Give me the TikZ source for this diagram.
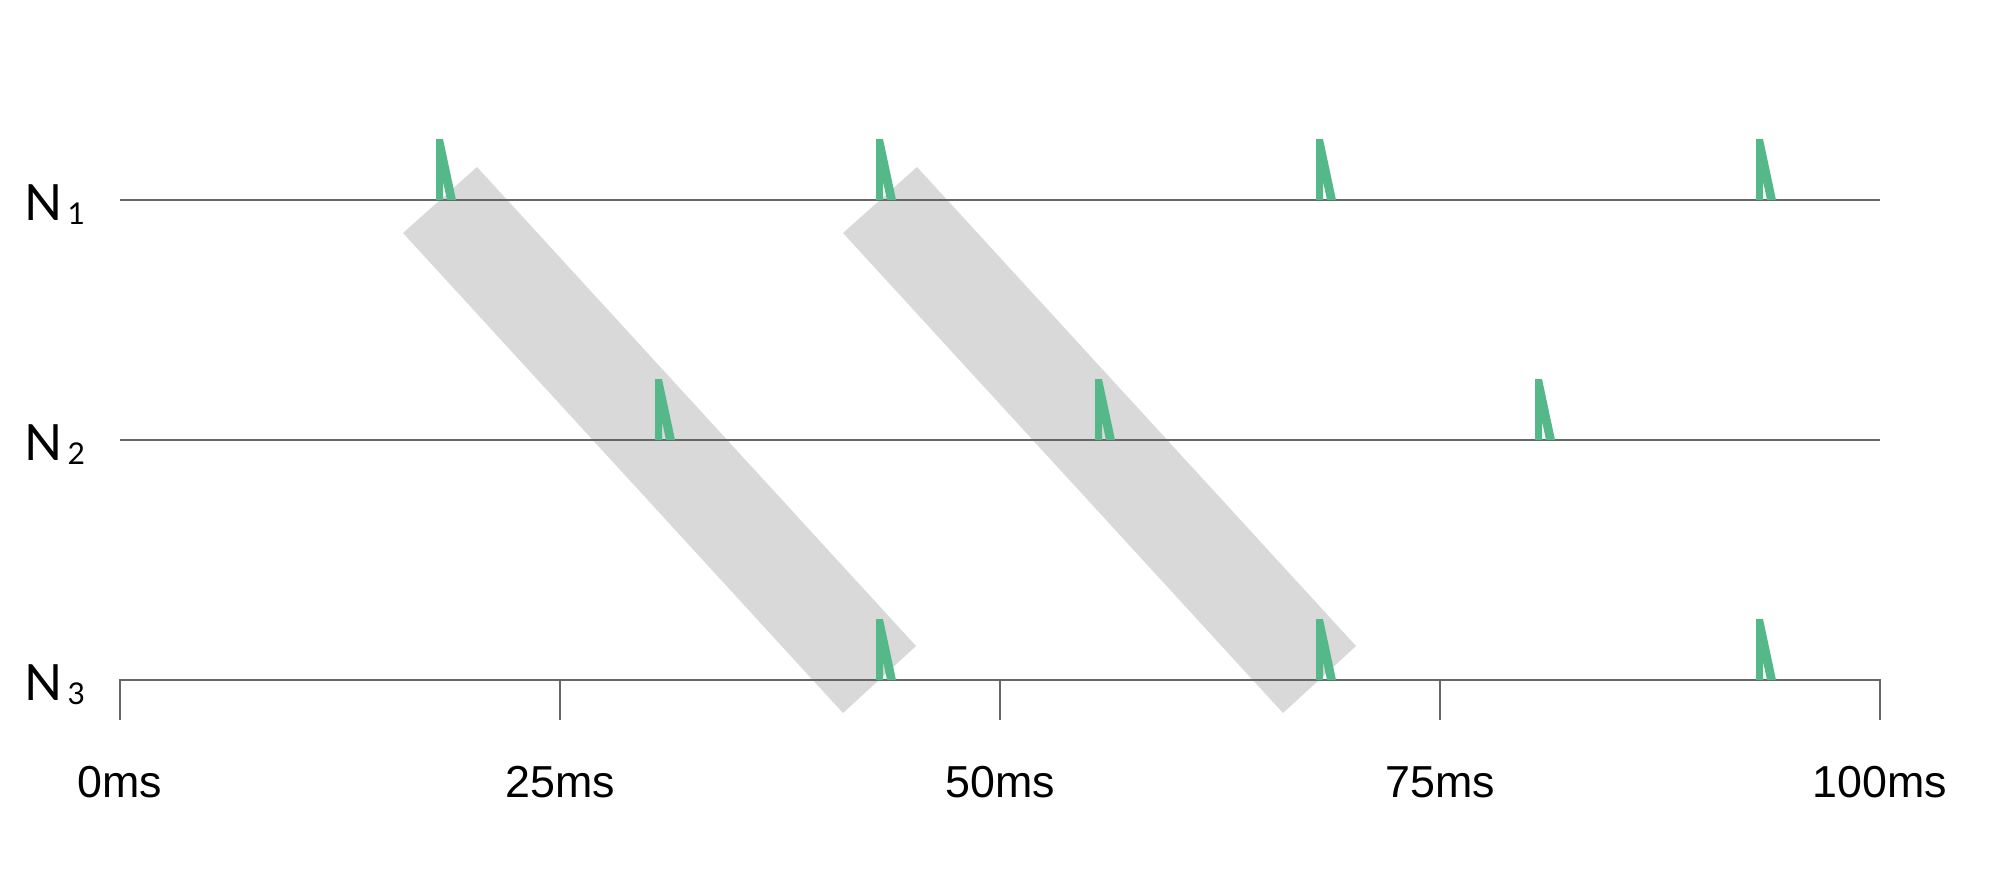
\documentclass[tikz,border=0pt]{standalone}
\usepackage{fontspec}
\setmainfont{Liberation Sans}
\newfontfamily\labfont{Lato}
\definecolor{pulsegreen}{HTML}{55B889}
\definecolor{bandgray}{HTML}{D9D9D9}
\definecolor{axisgray}{HTML}{666666}
\tikzset{
  band/.style={fill=bandgray},
  track/.style={draw=axisgray, line width=1pt},
  pulse/.pic={\fill[pulsegreen] (0,0) -- (0,-61) -- (7,-61) -- (20,0) -- (11,0) -- (7,-19) -- (7,0) -- cycle;},
  rowlabel/.style={anchor=base west, inner sep=0pt, font=\labfont\fontsize{25}{25}\selectfont},
  ticklabel/.style={anchor=base, inner sep=0pt, font=\fontsize{22.4}{22.4}\selectfont}
}
\newcommand\rowsub[1]{\hspace{2.5pt}\raisebox{-2pt}{\fontsize{15}{15}\selectfont #1}}
\begin{document}
\begin{tikzpicture}[x=0.5pt, y=-0.5pt]
\path[use as bounding box] (0,0) rectangle (2000,880);
% bands
\fill[band] (477,167) -- (916,646) -- (843,713) -- (403,233) -- cycle;
\fill[band] (917,167) -- (1356,646) -- (1283,713) -- (843,233) -- cycle;
% tracks
\coordinate (a1) at (120,200); \coordinate (b1) at (1880,200);
\coordinate (a2) at (120,440); \coordinate (b2) at (1880,440);
\coordinate (a3) at (120,680); \coordinate (b3) at (1880,680);
\draw[track] (a1) -- (b1);
\draw[track] (a2) -- (b2);
\draw[track] (a3) -- (b3);
% ticks
\foreach \x/\t in {120/0ms, 560/25ms, 1000/50ms, 1440/75ms, 1880/100ms} {
  \coordinate (t\x) at (\x,680);
  \draw[track, line cap=rect] (t\x) -- ++(0,39);
  \node[ticklabel] (l\x) at (\x,797) {\t};
}
% pulses
\foreach \x in {436, 876, 1316, 1756} \pic at (\x,200) {pulse};
\foreach \x in {655, 1095, 1535} \pic at (\x,440) {pulse};
\foreach \x in {876, 1316, 1756} \pic at (\x,680) {pulse};
% row labels
\node[rowlabel] (n1) at (24,220) {N\rowsub{1}};
\node[rowlabel] (n2) at (24,460) {N\rowsub{2}};
\node[rowlabel] (n3) at (24,700) {N\rowsub{3}};
\end{tikzpicture}
\end{document}
